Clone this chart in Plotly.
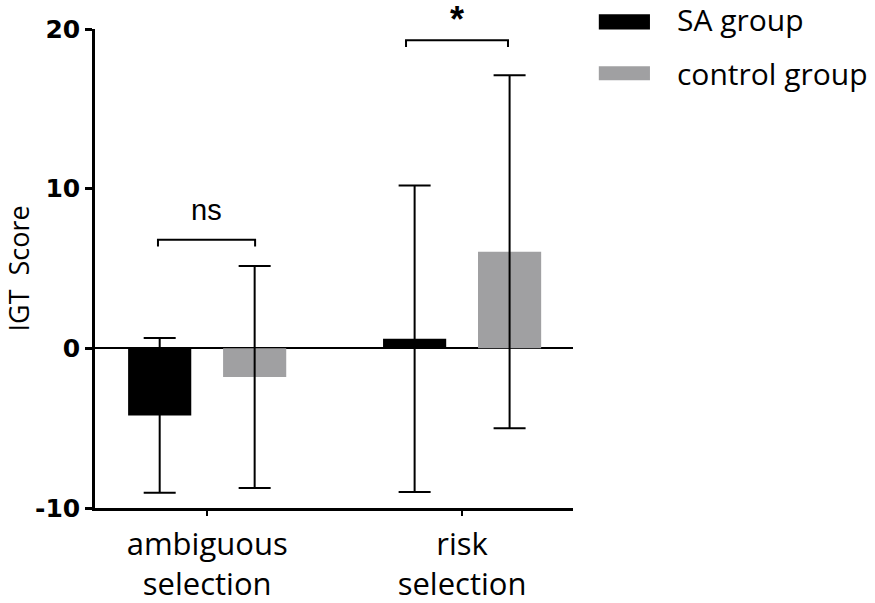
import plotly.graph_objects as go

# data
categories = ["ambiguous<br>selection", "risk<br>selection"]
groups = ["SA group", "control group"]
sa_mean = [-4.2, 0.6]
sa_sd = [4.85, 9.6]
control_mean = [-1.8, 6.05]
control_sd = [6.95, 11.05]
y_ticks = [-10, 0, 10, 20]
y_ticktext = ["-10", "0", "10", "20"]

# significance marks: (category index, left end, right end, bracket height, label)
sig_marks = [(0, -0.193, 0.188, 6.8, "ns"), (1, -0.22, 0.18, 19.3, "*")]

bar_colors = ["#000000", "#a0a0a2"]
font_main = "Open Sans"

fig = go.Figure()
for name, means, sds, color in zip(groups, [sa_mean, control_mean],
                                   [sa_sd, control_sd], bar_colors):
    fig.add_trace(go.Bar(
        x=categories,
        y=means,
        name=name,
        marker=dict(color=color, line=dict(width=0)),
        error_y=dict(type="data", array=sds, visible=True,
                     color="#000000", thickness=2, width=16),
        showlegend=False,
    ))

fig.update_layout(
    width=875,
    height=603,
    margin=dict(l=95, r=302, t=29, b=95),
    plot_bgcolor="white",
    paper_bgcolor="white",
    barmode="group",
    bargap=0.255,
    bargroupgap=0.335,
    font=dict(family=font_main, color="#000000"),
)

fig.update_xaxes(
    range=[-0.44, 1.435],
    automargin=False,
    showline=True, linecolor="#000000", linewidth=2.5,
    ticks="outside", ticklen=5, tickwidth=2, tickcolor="#000000",
    tickfont=dict(family=font_main, size=31, color="#000000"),
    ticklabelstandoff=2,
    showgrid=False,
)
fig.update_yaxes(
    range=[-10, 20],
    automargin=False,
    tickvals=y_ticks,
    ticktext=y_ticktext,
    showline=True, linecolor="#000000", linewidth=2.5,
    ticks="outside", ticklen=7, tickwidth=2.5, tickcolor="#000000",
    tickfont=dict(family="DejaVu Sans", size=25, color="#000000", weight="bold"),
    showgrid=False,
    zeroline=True, zerolinecolor="#000000", zerolinewidth=2,
)

# y-axis title
fig.add_annotation(
    text="IGT  Score", xref="paper", yref="paper",
    x=-0.161, y=0.5, textangle=-90, showarrow=False,
    xanchor="center", yanchor="middle",
    font=dict(family=font_main, size=27, color="#000000"),
)

# significance brackets
for idx, left, right, height, label in sig_marks:
    x0 = idx + left
    x1 = idx + right
    fig.add_shape(type="path",
                  path=f"M {x0},{height - 0.42} L {x0},{height} L {x1},{height} L {x1},{height - 0.42}",
                  xref="x", yref="y", line=dict(color="#000000", width=2))
    if label == "*":
        fig.add_annotation(text="<b>*</b>", x=(x0 + x1) / 2, y=height, xref="x", yref="y",
                           showarrow=False, yanchor="middle", yshift=21,
                           font=dict(family="Liberation Sans", size=36, color="#000000"))
    else:
        fig.add_annotation(text=label, x=(x0 + x1) / 2, y=height, xref="x", yref="y",
                           showarrow=False, yanchor="middle", yshift=30,
                           font=dict(family="Liberation Sans", size=29, color="#000000"))

# legend drawn by hand to get the wide swatches
legend_rows = [(1.031, 0.999, 1.019), (0.922, 0.893, 0.908)]
for name, color, (y1, y0, ty) in zip(groups, bar_colors, legend_rows):
    fig.add_shape(type="rect", xref="paper", yref="paper",
                  x0=1.054, x1=1.161, y0=y0, y1=y1,
                  fillcolor=color, line=dict(width=0))
    fig.add_annotation(text=name, xref="paper", yref="paper",
                       x=1.213, y=ty, xanchor="left", yanchor="middle",
                       showarrow=False,
                       font=dict(family=font_main, size=30, color="#000000"))

# drop the default page margin so the figure fills the window
fig.write_html("out.html", config={"displayModeBar": False},
               post_script="document.body.style.margin='0';")
